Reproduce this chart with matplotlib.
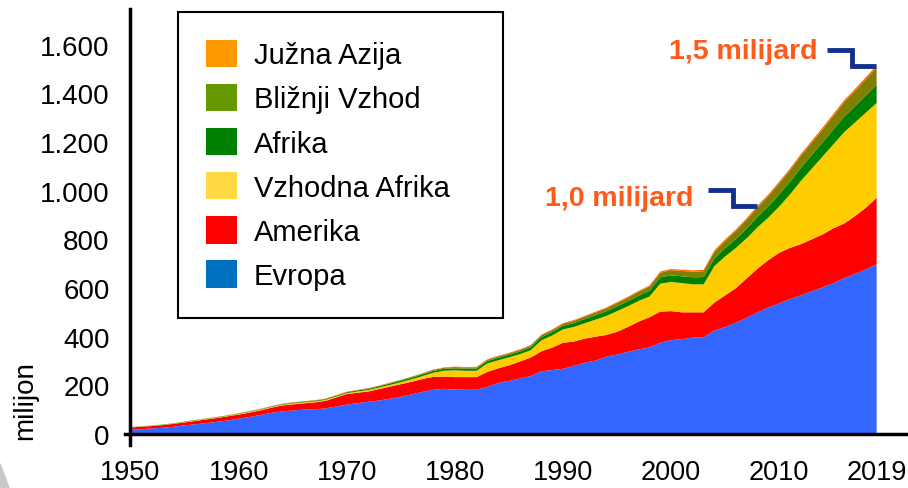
import matplotlib.pyplot as plt
import numpy as np
from matplotlib.patches import Patch, Polygon
from matplotlib.ticker import FuncFormatter

plt.rcParams['font.family'] = ['Liberation Sans', 'DejaVu Sans']

years = np.arange(1950, 2020)

# mednarodni turistični prihodi po regijah (milijon), odčitano s slike
evropa = [18, 20, 23, 26, 30, 36, 40, 45, 50, 56,
          63, 70, 78, 87, 93, 97, 100, 102, 105, 113,
          121, 127, 133, 138, 145, 153, 163, 173, 182, 186,
          183, 182, 182, 194, 210, 218, 228, 238, 258, 263,
          268, 280, 293, 302, 318, 327, 338, 348, 356, 375,
          386, 390, 396, 398, 425, 440, 458, 478, 500, 520,
          537, 555, 570, 587, 602, 620, 640, 658, 677, 697]
amerika = [9, 10, 10, 11, 12, 12, 14, 15, 16, 17,
           17, 18, 19, 21, 24, 25, 26, 28, 31, 37,
           43, 43, 42, 47, 50, 52, 52, 53, 53, 50,
           51, 52, 52, 61, 60, 64, 70, 76, 82, 92,
           107, 100, 99, 98, 89, 93, 102, 114, 124, 128,
           119, 110, 104, 102, 115, 130, 142, 162, 180, 195,
           208, 210, 210, 213, 218, 225, 225, 237, 253, 273]
vzhodna_afrika = [1, 1, 1, 1, 1, 2, 2, 2, 2, 2,
                  3, 3, 3, 3, 3, 4, 4, 4, 4, 4,
                  4, 5, 6, 6, 7, 8, 10, 12, 17, 24,
                  28, 26, 26, 35, 33, 33, 30, 30, 45, 50,
                  55, 60, 63, 70, 78, 85, 85, 85, 85, 115,
                  120, 120, 115, 115, 150, 160, 165, 165, 170, 175,
                  190, 220, 260, 290, 320, 345, 375, 385, 390, 390]
afrika = [0.5, 0.6, 0.7, 0.8, 0.9, 1.0, 1.1, 1.2, 1.3, 1.4,
          1.5, 1.6, 1.8, 2.0, 2.2, 2.4, 2.6, 2.8, 3.0, 3.2,
          3.5, 4, 4.5, 5, 5.5, 6, 6.5, 7, 7.5, 8,
          8, 8.5, 9, 9.5, 10, 10, 11, 12, 13, 14,
          15, 16, 17, 18, 19, 20, 21, 22, 24, 26,
          27, 28, 29, 30, 32, 34, 37, 40, 43, 46,
          50, 52, 54, 56, 58, 61, 64, 67, 71, 75]
bliznji_vzhod = [0.3, 0.35, 0.4, 0.45, 0.5, 0.55, 0.6, 0.65, 0.7, 0.75,
                 0.8, 0.9, 1.0, 1.1, 1.2, 1.3, 1.4, 1.4, 1.5, 1.5,
                 1.5, 1.7, 2, 2.3, 2.6, 3, 3.3, 3.6, 4, 4.5,
                 5, 5, 5, 5.5, 6, 6, 6.5, 7, 7.5, 8,
                 8, 9, 10, 11, 12, 13, 14, 15, 17, 19,
                 21, 22, 23, 24, 27, 30, 33, 36, 39, 42,
                 45, 47, 49, 51, 53, 56, 59, 62, 66, 70]
juzna_azija = [0.2, 0.2, 0.3, 0.3, 0.3, 0.4, 0.4, 0.5, 0.5, 0.5,
               0.6, 0.6, 0.7, 0.7, 0.8, 0.8, 0.9, 0.9, 1.0, 1.0,
               1.0, 1.1, 1.2, 1.2, 1.3, 1.3, 1.4, 1.4, 1.5, 1.5,
               2, 2, 2.1, 2.2, 2.3, 2.4, 2.5, 2.6, 2.8, 3,
               3, 3.2, 3.4, 3.6, 3.8, 4, 4.2, 4.4, 4.5, 4.7,
               5, 5.2, 5.4, 5.6, 5.8, 6, 6.2, 6.4, 6.6, 6.8,
               7, 7.2, 7.4, 7.6, 7.8, 8, 8.3, 8.5, 8.8, 9]

labels = ['Evropa', 'Amerika', 'Vzhodna Afrika', 'Afrika', 'Bližnji Vzhod', 'Južna Azija']
fill_colors = ['#3366FF', '#FF0000', '#FFCC00', '#008000', '#808000', '#FF6600']
legend_colors = ['#0070C0', '#FF0000', '#FFD944', '#008000', '#669900', '#FF9900']

fig = plt.figure(figsize=(9.08, 4.89), dpi=100)
ax = fig.add_axes([0.1377, 0.0879, 0.8623, 0.8916])

ax.stackplot(years, evropa, amerika, vzhodna_afrika, afrika, bliznji_vzhod,
             juzna_azija, colors=fill_colors, linewidth=0)

ax.set_xlim(1949.5, 2021.9)
ax.set_ylim(-45, 1746)
ax.spines['left'].set_position(('data', 1950))
ax.spines['bottom'].set_position(('data', 0))
ax.spines['top'].set_visible(False)
ax.spines['right'].set_visible(False)
for s in ['left', 'bottom']:
    ax.spines[s].set_linewidth(2.5)
ax.spines['left'].set_bounds(-45, 1746)

ax.set_yticks(np.arange(0, 1601, 200))
ax.yaxis.set_major_formatter(FuncFormatter(lambda v, p: f'{int(v):,}'.replace(',', '.')))
ax.set_xticks([1950, 1960, 1970, 1980, 1990, 2000, 2010, 2019])
ax.tick_params(axis='y', length=0, pad=15, labelsize=20)
ax.tick_params(axis='x', length=0, pad=18, labelsize=19.5)
fig.text(0.028, 0.18, 'milijon', rotation=90, fontsize=20, ha='center', va='center')

# oznake 1,0 in 1,5 milijard
total = np.sum([evropa, amerika, vzhodna_afrika, afrika, bliznji_vzhod, juzna_azija], axis=0)
for yr, dy, txt, tx, tyy in [(2008, 62, '1,0 milijard', 2002.1, 968),
                              (2019, 62, '1,5 milijard', 2013.5, 1572)]:
    ty = total[years == yr][0]
    ax.plot([yr - 4.6, yr - 2.3, yr - 2.3, yr - 0.1], [ty + dy, ty + dy, ty, ty],
            color='#12308F', lw=3.5, solid_joinstyle='miter', solid_capstyle='butt')
    ax.text(tx, tyy, txt, color='#FF5A1A', fontsize=20.5, fontweight='bold',
            ha='right', va='center')

handles = [Patch(facecolor=c, edgecolor='none') for c in legend_colors]
leg = ax.legend(handles[::-1], labels[::-1], loc='upper left',
                bbox_to_anchor=(0.196, 0.3395, 0.358, 0.634),
                bbox_transform=fig.transFigure, mode='expand', borderaxespad=0,
                fontsize=21, handlelength=1.06, handleheight=1.06,
                labelspacing=0.5, handletextpad=0.6, borderpad=0.95,
                fancybox=False, framealpha=1)
leg.get_frame().set_edgecolor('black')
leg.get_frame().set_linewidth(1.5)

# siv okrasni trikotnik v kotu
fig.patches.append(Polygon([[0, 0], [0, 0.05], [0.01, 0]], closed=True,
                           transform=fig.transFigure, color='#C8C8C8'))

fig.savefig('out.png', dpi=100)
